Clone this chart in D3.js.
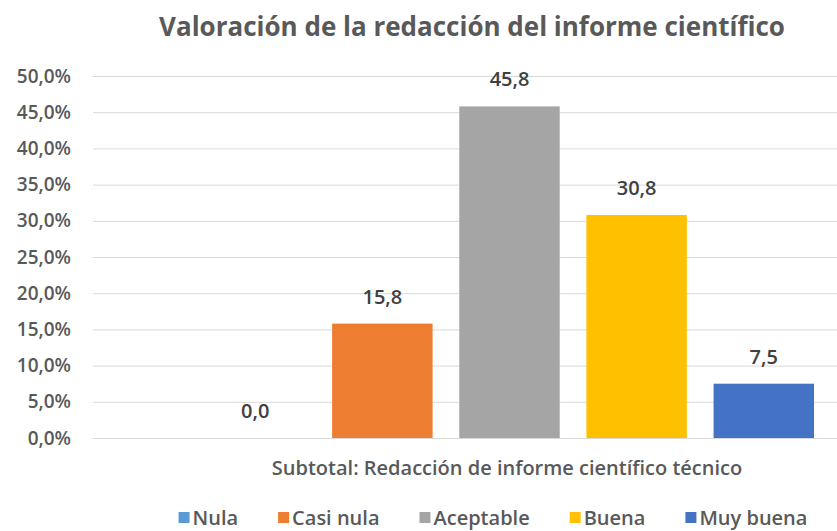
<!DOCTYPE html>
<html>
<head>
<meta charset="utf-8">
<script src="https://cdn.jsdelivr.net/npm/d3@7"></script>
<style>
  body { margin: 0; background: #fff; }
  text { font-family: "Open Sans", "Noto Sans", sans-serif; fill: #595959; font-weight: 600; }
</style>
</head>
<body>
<svg id="vis"></svg>
<script>
const WIDTH = 837;
const HEIGHT = 531;

const TITULO = "Valoración de la redacción del informe científico";
const CATEGORIA = "Subtotal: Redacción de informe científico técnico";
const SERIES = ["Nula", "Casi nula", "Aceptable", "Buena", "Muy buena"];
const VALORES = [0.0, 15.8, 45.8, 30.8, 7.5];
const COLORES = ["#5b9bd5", "#ed7d31", "#a5a5a5", "#ffc000", "#4472c4"];
const TICKS = [0, 5, 10, 15, 20, 25, 30, 35, 40, 45, 50];

const svg = d3.select("#vis").attr("width", WIDTH).attr("height", HEIGHT);

const PLOT = { left: 93, right: 837, top: 76, bottom: 438 };

const escalaY = d3.scaleLinear().domain([0, 50]).range([PLOT.bottom, PLOT.top]);
const escalaX = d3
  .scaleBand()
  .domain(SERIES)
  .range([205, 814])
  .paddingInner(0.21)
  .paddingOuter(0);

const fmt = (v) => v.toFixed(1).replace(".", ",");

// grilla + eje Y
const ejeY = d3
  .axisLeft(escalaY)
  .tickValues(TICKS)
  .tickSize(-(PLOT.right - PLOT.left))
  .tickPadding(22)
  .tickFormat((d) => fmt(d) + "%");

svg
  .append("g")
  .attr("transform", `translate(${PLOT.left}, 0)`)
  .call(ejeY)
  .call((g) => g.select(".domain").remove())
  .call((g) => g.selectAll("line").attr("stroke", "#d9d9d9").attr("stroke-width", 1))
  .call((g) =>
    g.selectAll("text")
      .attr("font-size", "19px")
      .attr("font-family", "Open Sans, sans-serif")
      .style("fill", "#595959")
  );

// barras
svg
  .selectAll("rect.barra")
  .data(SERIES)
  .join("rect")
  .attr("class", "barra")
  .attr("x", (d) => escalaX(d))
  .attr("y", (d, i) => escalaY(VALORES[i]))
  .attr("width", escalaX.bandwidth())
  .attr("height", (d, i) => PLOT.bottom - escalaY(VALORES[i]))
  .attr("fill", (d, i) => COLORES[i]);

// etiquetas de valor
svg
  .selectAll("text.valor")
  .data(SERIES)
  .join("text")
  .attr("class", "valor")
  .attr("x", (d) => escalaX(d) + escalaX.bandwidth() / 2)
  .attr("y", (d, i) => escalaY(VALORES[i]) - 20)
  .attr("text-anchor", "middle")
  .attr("font-size", "20px")
  .style("fill", "#404040")
  .text((d, i) => fmt(VALORES[i]));

// título
svg
  .append("text")
  .attr("x", 472)
  .attr("y", 36)
  .attr("text-anchor", "middle")
  .attr("font-size", "26px")
  .style("font-weight", "bold")
  .text(TITULO);

// etiqueta de categoría
svg
  .append("text")
  .attr("x", 507)
  .attr("y", 475)
  .attr("text-anchor", "middle")
  .attr("font-size", "20px")
  .text(CATEGORIA);

// leyenda
const leyenda = svg.append("g");
const items = leyenda
  .selectAll("g")
  .data(SERIES)
  .join("g");
items
  .append("rect")
  .attr("width", 11)
  .attr("height", 11)
  .attr("y", -13)
  .attr("fill", (d, i) => COLORES[i]);
items
  .append("text")
  .attr("x", 14)
  .attr("font-size", "20px")
  .text((d) => d);

let xAcum = 0;
items.each(function () {
  const w = d3.select(this).select("text").node().getComputedTextLength();
  d3.select(this).attr("transform", `translate(${xAcum}, 0)`);
  xAcum += 14 + w + 40;
});
const anchoLeyenda = xAcum - 40;
leyenda.attr("transform", `translate(${493 - anchoLeyenda / 2}, 525)`);
</script>
</body>
</html>
